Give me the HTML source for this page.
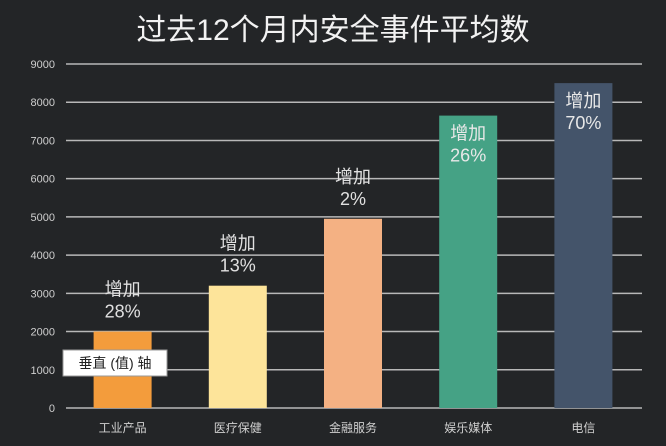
<!DOCTYPE html>
<html><head><meta charset="utf-8"><style>
body{margin:0;background:#232527;}
svg{display:block;font-family:"Liberation Sans","Noto Sans CJK SC",sans-serif;}
</style></head><body>
<svg id="c" width="666" height="446">
<rect width="666" height="446" fill="#232527"/>
<text x="333" y="40" text-anchor="middle" font-size="30" fill="#f2f2f2">过去12个月内安全事件平均数</text>
<g id="grid"></g><g id="bars"></g><g id="labels"></g>
<g>
<rect x="63" y="350" width="104" height="26" fill="#fff" stroke="#999"/>
<text x="115" y="368" text-anchor="middle" font-size="14" fill="#222">垂直 (值) 轴</text>
</g>
</svg>
<script>
const categories=["工业产品","医疗保健","金融服务","娱乐媒体","电信"];
const values=[2000,3200,4950,7650,8500];
const notes=["28%","13%","2%","26%","70%"];
const colors=["#f39c3c","#fde49a","#f4b183","#45a285","#44546a"];
const yTicks=[0,1000,2000,3000,4000,5000,6000,7000,8000,9000];
const ns="http://www.w3.org/2000/svg";
const y0=408,y1=64,max=9000,x0=66,x1=642;
const y=v=>y0-(v/max)*(y0-y1);
const bw=58,step=(x1-x0)/categories.length;
const cx=i=>x0+step*(i+0.5)-1;
function mk(t,a,p,txt){const e=document.createElementNS(ns,t);for(const k in a)e.setAttribute(k,a[k]);if(txt!==undefined)e.textContent=txt;p.appendChild(e);return e;}
const g=document.getElementById('grid'),b=document.getElementById('bars'),l=document.getElementById('labels');
yTicks.forEach(t=>{
 const ln=mk('line',{x1:x0,x2:x1,y1:y(t),y2:y(t),stroke:'#b8b8b8','stroke-width':1.5},g);
 
 
 const tx=mk('text',{x:55,y:y(t)+4,'text-anchor':'end','font-size':11,fill:'#cfcfcf'},g,t);
 
 
});
categories.forEach((c,i)=>{
 const r=mk('rect',{x:cx(i)-bw/2,y:y(values[i]),width:bw,height:y0-y(values[i]),fill:colors[i]},b);
 
 
 const xt=mk('text',{x:cx(i),y:432,'text-anchor':'middle','font-size':12,fill:'#cfcfcf'},l,c);
 
 
 const inside=values[i]>7000;
 const top=inside?y(values[i])+30:y(values[i])-30;
 const col=inside?'#e8e8e8':'#e0e0e0';
 const t1=mk('text',{x:cx(i),y:top-6,'text-anchor':'middle','font-size':18,fill:col},l,'增加');
 
 
 const t2=mk('text',{x:cx(i),y:top+16,'text-anchor':'middle','font-size':18,fill:col},l,notes[i]);
 
 
});
</script>
</body></html>
